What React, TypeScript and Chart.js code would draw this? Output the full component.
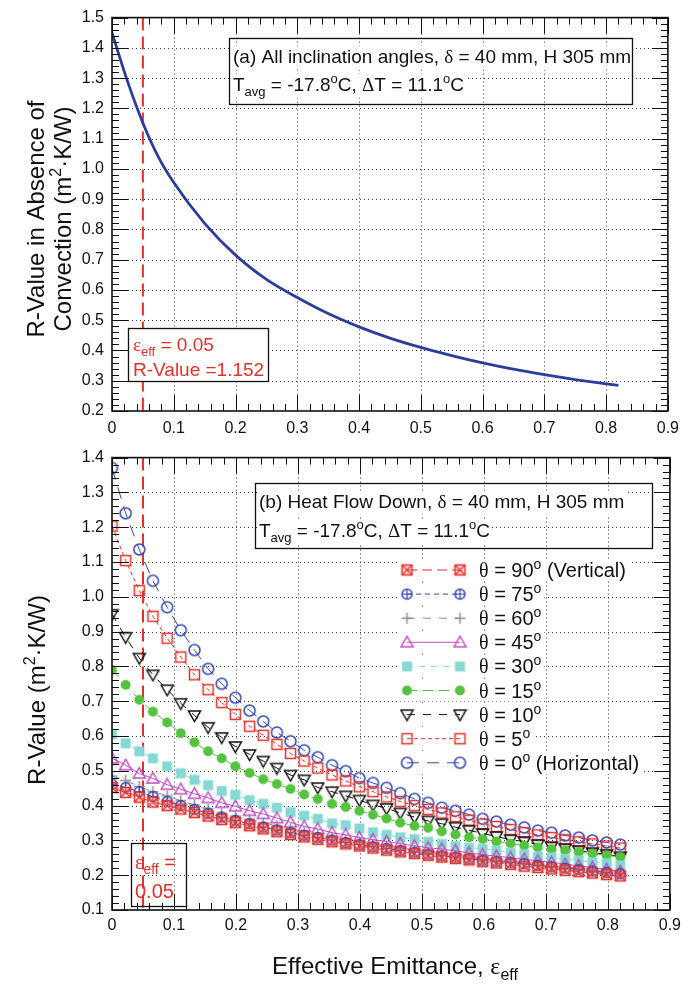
import React, { useEffect, useRef } from 'react';
import { Chart, registerables } from 'chart.js';

Chart.register(...registerables);

const SANS = '"Liberation Sans", Arial, Helvetica, sans-serif';
const SERIF = '"Liberation Serif", "Times New Roman", serif';

// ---------------- data ----------------
const X_TICKS = [0, 0.1, 0.2, 0.3, 0.4, 0.5, 0.6, 0.7, 0.8, 0.9];
const TOP_Y_TICKS = [0.2, 0.3, 0.4, 0.5, 0.6, 0.7, 0.8, 0.9, 1.0, 1.1, 1.2, 1.3, 1.4, 1.5];
const BOTTOM_Y_TICKS = [0.1, 0.2, 0.3, 0.4, 0.5, 0.6, 0.7, 0.8, 0.9, 1.0, 1.1, 1.2, 1.3, 1.4];

const EPS_MARK = 0.05;
const R_AT_MARK = 1.152;

// (a) R-value in absence of convection
const TOP_EPS = [0, 0.025, 0.05, 0.075, 0.1, 0.15, 0.2, 0.25, 0.3, 0.35, 0.4, 0.45, 0.5, 0.55, 0.6, 0.65, 0.7, 0.75, 0.8, 0.82];
const TOP_R = [1.45, 1.29, 1.152, 1.04, 0.955, 0.82, 0.715, 0.635, 0.575, 0.522, 0.478, 0.441, 0.41, 0.383, 0.359, 0.338, 0.32, 0.304, 0.29, 0.285];

// (b) heat flow down, by inclination angle
const EPS = [0, 0.022, 0.044, 0.066, 0.089, 0.111, 0.133, 0.155, 0.177, 0.199, 0.222, 0.244, 0.266, 0.288, 0.31, 0.332, 0.355, 0.377, 0.399, 0.421, 0.443, 0.465, 0.488, 0.51, 0.532, 0.554, 0.576, 0.598, 0.62, 0.643, 0.665, 0.687, 0.709, 0.731, 0.753, 0.775, 0.798, 0.82];
const R_90 = [0.452, 0.438, 0.424, 0.41, 0.4, 0.39, 0.38, 0.37, 0.36, 0.351, 0.342, 0.333, 0.325, 0.317, 0.31, 0.303, 0.296, 0.29, 0.284, 0.278, 0.272, 0.267, 0.262, 0.257, 0.252, 0.248, 0.244, 0.239, 0.235, 0.231, 0.226, 0.222, 0.218, 0.214, 0.21, 0.206, 0.202, 0.198];
const R_75 = [0.462, 0.452, 0.44, 0.426, 0.412, 0.4, 0.389, 0.378, 0.367, 0.357, 0.348, 0.338, 0.33, 0.322, 0.315, 0.308, 0.301, 0.294, 0.288, 0.282, 0.277, 0.271, 0.266, 0.261, 0.256, 0.252, 0.247, 0.243, 0.239, 0.236, 0.233, 0.228, 0.224, 0.22, 0.216, 0.212, 0.208, 0.204];
const R_60 = [0.485, 0.472, 0.455, 0.44, 0.428, 0.414, 0.402, 0.391, 0.378, 0.37, 0.361, 0.351, 0.342, 0.334, 0.325, 0.318, 0.31, 0.303, 0.296, 0.29, 0.284, 0.278, 0.272, 0.267, 0.262, 0.257, 0.252, 0.248, 0.244, 0.24, 0.236, 0.232, 0.228, 0.224, 0.22, 0.216, 0.212, 0.207];
const R_45 = [0.536, 0.516, 0.492, 0.478, 0.46, 0.447, 0.434, 0.422, 0.408, 0.398, 0.385, 0.376, 0.364, 0.352, 0.34, 0.333, 0.322, 0.316, 0.308, 0.302, 0.297, 0.291, 0.284, 0.279, 0.275, 0.27, 0.264, 0.259, 0.255, 0.25, 0.246, 0.241, 0.237, 0.232, 0.227, 0.222, 0.217, 0.211];
const R_30 = [0.605, 0.579, 0.556, 0.536, 0.513, 0.493, 0.474, 0.459, 0.442, 0.431, 0.416, 0.405, 0.394, 0.381, 0.371, 0.362, 0.349, 0.344, 0.334, 0.323, 0.316, 0.309, 0.304, 0.296, 0.29, 0.284, 0.279, 0.276, 0.271, 0.265, 0.26, 0.254, 0.251, 0.247, 0.242, 0.237, 0.234, 0.228];
const R_15 = [0.79, 0.747, 0.704, 0.67, 0.639, 0.608, 0.582, 0.556, 0.536, 0.513, 0.494, 0.476, 0.462, 0.448, 0.432, 0.419, 0.405, 0.396, 0.385, 0.374, 0.363, 0.351, 0.342, 0.336, 0.326, 0.317, 0.309, 0.304, 0.297, 0.291, 0.285, 0.28, 0.275, 0.271, 0.266, 0.262, 0.257, 0.252];
const R_10 = [0.95, 0.884, 0.824, 0.776, 0.733, 0.694, 0.659, 0.625, 0.596, 0.57, 0.547, 0.528, 0.508, 0.488, 0.474, 0.452, 0.44, 0.428, 0.416, 0.402, 0.392, 0.379, 0.367, 0.356, 0.348, 0.338, 0.329, 0.32, 0.311, 0.302, 0.297, 0.288, 0.282, 0.277, 0.271, 0.265, 0.26, 0.253];
const R_5 = [1.203, 1.104, 1.018, 0.944, 0.881, 0.827, 0.776, 0.733, 0.696, 0.662, 0.628, 0.602, 0.576, 0.55, 0.528, 0.508, 0.488, 0.471, 0.454, 0.44, 0.425, 0.412, 0.4, 0.389, 0.379, 0.368, 0.358, 0.347, 0.34, 0.331, 0.322, 0.316, 0.308, 0.302, 0.296, 0.29, 0.284, 0.278];
const R_0 = [1.37, 1.24, 1.136, 1.046, 0.97, 0.904, 0.847, 0.793, 0.75, 0.71, 0.673, 0.642, 0.61, 0.585, 0.559, 0.539, 0.516, 0.499, 0.479, 0.465, 0.451, 0.436, 0.419, 0.408, 0.394, 0.385, 0.374, 0.362, 0.354, 0.345, 0.337, 0.328, 0.322, 0.314, 0.308, 0.3, 0.294, 0.288];

const ANGLES = ['90', '75', '60', '45', '30', '15', '10', '5', '0'];
const ANGLE_NOTES = [' (Vertical)', '', '', '', '', '', '', '', ' (Horizontal)'];

// ---------------- styles ----------------
const RED = '#e5302a';
const BLUE = '#3347b0';
const GRAY = '#8f8f8f';
const MAG = '#c04cc0';
const CYAN = '#86d9d3';
const GREEN = '#55c240';
const BLACK = '#111111';
const CURVE = '#2c3e9c';

const SERIES = [
  { vals: R_90, color: RED, dash: [10, 5], marker: 'sqx' },
  { vals: R_75, color: BLUE, dash: [5, 4], marker: 'cplus' },
  { vals: R_60, color: GRAY, dash: [8, 8], marker: 'plus' },
  { vals: R_45, color: MAG, dash: [], marker: 'tri' },
  { vals: R_30, color: CYAN, dash: [6, 6], marker: 'fsq' },
  { vals: R_15, color: GREEN, dash: [10, 6], marker: 'fcirc' },
  { vals: R_10, color: BLACK, dash: [8, 8], marker: 'tridown' },
  { vals: R_5, color: RED, dash: [4, 3], marker: 'sq' },
  { vals: R_0, color: BLUE, dash: [12, 8], marker: 'circ' },
];

type Run = { t: string; s?: 'sub' | 'sup'; serif?: boolean };

function runFont(size: number, r: Run) {
  const sz = r.s ? Math.round(size * 0.68) : size;
  return `${sz}px ${r.serif ? SERIF : SANS}`;
}
function richWidth(ctx: CanvasRenderingContext2D, runs: Run[], size: number) {
  let w = 0;
  for (const r of runs) {
    ctx.font = runFont(size, r);
    w += ctx.measureText(r.t).width;
  }
  return w;
}
function drawRich(ctx: CanvasRenderingContext2D, runs: Run[], x: number, y: number, size: number, color: string, align = 'left', bg = false) {
  const w = richWidth(ctx, runs, size);
  let cx = align === 'center' ? x - w / 2 : align === 'right' ? x - w : x;
  if (bg) {
    ctx.fillStyle = '#fff';
    ctx.fillRect(cx - 2, y - size * 0.9, w + 4, size * 1.25);
  }
  ctx.fillStyle = color;
  ctx.textAlign = 'left';
  ctx.textBaseline = 'alphabetic';
  for (const r of runs) {
    ctx.font = runFont(size, r);
    const dy = r.s === 'sub' ? size * 0.25 : r.s === 'sup' ? -size * 0.4 : 0;
    ctx.fillText(r.t, cx, y + dy);
    cx += ctx.measureText(r.t).width;
  }
  return w;
}
function drawRotated(ctx: CanvasRenderingContext2D, runs: Run[], x: number, y: number, size: number) {
  ctx.save();
  ctx.translate(x, y);
  ctx.rotate(-Math.PI / 2);
  drawRich(ctx, runs, 0, 0, size, '#111', 'center');
  ctx.restore();
}

function makeMarkers() {
  const S = 15;
  const c = 7.5;
  const mk = (fn: (g: CanvasRenderingContext2D) => void) => {
    const cv = document.createElement('canvas');
    cv.width = S;
    cv.height = S;
    const g = cv.getContext('2d')!;
    g.lineWidth = 1.5;
    fn(g);
    return cv;
  };
  return {
    sqx: mk((g) => {
      g.strokeStyle = RED;
      g.fillStyle = 'rgba(240,140,140,0.35)';
      g.fillRect(c - 5, c - 5, 10, 10);
      g.strokeRect(c - 5, c - 5, 10, 10);
      g.lineWidth = 1.2;
      g.beginPath();
      g.moveTo(c - 5, c - 5); g.lineTo(c + 5, c + 5);
      g.moveTo(c + 5, c - 5); g.lineTo(c - 5, c + 5);
      g.stroke();
    }),
    cplus: mk((g) => {
      g.strokeStyle = BLUE;
      g.beginPath(); g.arc(c, c, 5, 0, Math.PI * 2); g.stroke();
      g.lineWidth = 1.2;
      g.beginPath();
      g.moveTo(c - 5, c); g.lineTo(c + 5, c);
      g.moveTo(c, c - 5); g.lineTo(c, c + 5);
      g.stroke();
    }),
    plus: mk((g) => {
      g.strokeStyle = GRAY;
      g.beginPath();
      g.moveTo(c - 5.5, c); g.lineTo(c + 5.5, c);
      g.moveTo(c, c - 5.5); g.lineTo(c, c + 5.5);
      g.stroke();
    }),
    tri: mk((g) => {
      g.strokeStyle = MAG;
      g.beginPath();
      g.moveTo(c, c - 6); g.lineTo(c + 6, c + 4.5); g.lineTo(c - 6, c + 4.5); g.closePath();
      g.stroke();
    }),
    fsq: mk((g) => {
      g.fillStyle = CYAN;
      g.fillRect(c - 5, c - 5, 10, 10);
    }),
    fcirc: mk((g) => {
      g.fillStyle = GREEN;
      g.beginPath(); g.arc(c, c, 5, 0, Math.PI * 2); g.fill();
    }),
    tridown: mk((g) => {
      g.strokeStyle = BLACK;
      g.beginPath();
      g.moveTo(c - 6, c - 4.5); g.lineTo(c + 6, c - 4.5); g.lineTo(c, c + 6); g.closePath();
      g.stroke();
    }),
    sq: mk((g) => {
      g.strokeStyle = RED;
      g.strokeRect(c - 5, c - 5, 10, 10);
    }),
    circ: mk((g) => {
      g.strokeStyle = BLUE;
      g.beginPath(); g.arc(c, c, 5.5, 0, Math.PI * 2); g.stroke();
    }),
  } as Record<string, HTMLCanvasElement>;
}

function scaleCfg(axis: 'x' | 'y', min: number, max: number, ticks: number[], fit: number, pad: number) {
  return {
    type: 'linear' as const,
    min,
    max,
    afterBuildTicks: (s: any) => {
      s.ticks = ticks.map((v) => ({ value: v }));
    },
    afterFit: (s: any) => {
      if (axis === 'x') s.height = fit;
      else s.width = fit;
    },
    grid: { display: false, drawTicks: false },
    border: { display: false },
    ticks: {
      color: '#111',
      font: { family: SANS, size: 16 },
      padding: pad,
      autoSkip: false,
      maxRotation: 0,
      callback: (v: any) => (Number(v) === 0 ? '0' : Number(v).toFixed(1)),
    },
  };
}

function framePlugin(yMin: number, yMax: number, xTicks: number[], yTicks: number[], extra: (ctx: CanvasRenderingContext2D, chart: any) => void) {
  return {
    id: 'frameDecor',
    beforeDatasetsDraw(chart: any) {
      const ctx: CanvasRenderingContext2D = chart.ctx;
      const { left, right, top, bottom } = chart.chartArea;
      const xs = chart.scales.x;
      const ys = chart.scales.y;
      ctx.save();
      ctx.strokeStyle = '#333';
      ctx.lineWidth = 1;
      ctx.setLineDash([1, 3]);
      for (const v of xTicks) {
        const px = Math.round(xs.getPixelForValue(v)) + 0.5;
        if (px < left + 2 || px > right - 2) continue;
        ctx.beginPath(); ctx.moveTo(px, top); ctx.lineTo(px, bottom); ctx.stroke();
      }
      for (const v of yTicks) {
        const py = Math.round(ys.getPixelForValue(v)) + 0.5;
        if (py < top + 2 || py > bottom - 2) continue;
        ctx.beginPath(); ctx.moveTo(left, py); ctx.lineTo(right, py); ctx.stroke();
      }
      // emittance marker line
      ctx.strokeStyle = RED;
      ctx.lineWidth = 2;
      ctx.setLineDash([13, 6]);
      const mx = xs.getPixelForValue(EPS_MARK);
      ctx.beginPath(); ctx.moveTo(mx, top); ctx.lineTo(mx, bottom); ctx.stroke();
      ctx.restore();
    },
    afterDatasetsDraw(chart: any) {
      const ctx: CanvasRenderingContext2D = chart.ctx;
      const { left, right, top, bottom } = chart.chartArea;
      const xs = chart.scales.x;
      const ys = chart.scales.y;
      ctx.save();
      ctx.strokeStyle = '#111';
      ctx.lineWidth = 1;
      ctx.setLineDash([]);
      const MAJ = 16;
      const MIN = 7;
      const nx = Math.round(0.9 / 0.02);
      for (let i = 0; i <= nx; i++) {
        const px = Math.round(xs.getPixelForValue(i * 0.02)) + 0.5;
        const L = i % 5 === 0 ? MAJ : MIN;
        ctx.beginPath();
        ctx.moveTo(px, bottom); ctx.lineTo(px, bottom - L);
        ctx.moveTo(px, top); ctx.lineTo(px, top + L);
        ctx.stroke();
      }
      const ny = Math.round((yMax - yMin) / 0.02);
      for (let i = 0; i <= ny; i++) {
        const py = Math.round(ys.getPixelForValue(yMin + i * 0.02)) + 0.5;
        const L = i % 5 === 0 ? MAJ : MIN;
        ctx.beginPath();
        ctx.moveTo(left, py); ctx.lineTo(left + L, py);
        ctx.moveTo(right, py); ctx.lineTo(right - L, py);
        ctx.stroke();
      }
      ctx.lineWidth = 1.6;
      ctx.strokeRect(left, top, right - left, bottom - top);
      extra(ctx, chart);
      ctx.restore();
    },
  };
}

const deg: Run = { t: 'o', s: 'sup' };
const COND_LINE: Run[] = [
  { t: 'T' }, { t: 'avg', s: 'sub' }, { t: ' = -17.8' }, deg, { t: 'C, ' },
  { t: 'Δ', serif: true }, { t: 'T = 11.1' }, deg, { t: 'C' },
];

export default function App() {
  const topRef = useRef<HTMLCanvasElement>(null);
  const botRef = useRef<HTMLCanvasElement>(null);

  useEffect(() => {
    const markers = makeMarkers();
    const OFF = 440;

    const topChart = new Chart(topRef.current!, {
      type: 'line',
      data: {
        datasets: [
          {
            data: TOP_EPS.map((x, i) => ({ x, y: TOP_R[i] })),
            borderColor: CURVE,
            borderWidth: 2.8,
            pointRadius: 0,
            tension: 0.4,
            cubicInterpolationMode: 'monotone',
            fill: false,
          } as any,
        ],
      },
      options: {
        animation: false,
        responsive: false,
        maintainAspectRatio: false,
        devicePixelRatio: 1,
        layout: { padding: { left: 0, right: 12, top: 14, bottom: 0 } },
        plugins: { legend: { display: false }, tooltip: { enabled: false } },
        scales: {
          x: scaleCfg('x', 0, 0.9, X_TICKS, 29, 8) as any,
          y: scaleCfg('y', 0.2, 1.5, TOP_Y_TICKS, 112, 8) as any,
        },
      },
      plugins: [
        framePlugin(0.2, 1.5, X_TICKS, TOP_Y_TICKS, (ctx) => {
          // y title
          drawRotated(ctx, [{ t: 'R-Value in Absence of' }], 44, 219, 24);
          drawRotated(ctx, [{ t: 'Convection (m' }, { t: '2', s: 'sup' }, { t: '·K/W)' }], 71, 219, 24);
          // (a) box
          drawRich(ctx, [{ t: '(a) All inclination angles, ' }, { t: 'δ', serif: true }, { t: ' = 40 mm, H 305 mm' }], 233, 63, 19, '#111', 'left', true);
          drawRich(ctx, COND_LINE, 233, 91, 19, '#111', 'left', true);
          ctx.lineWidth = 1.3;
          ctx.strokeStyle = '#111';
          ctx.strokeRect(229.5, 38.5, 403, 66);
          // red box
          ctx.fillStyle = '#fff';
          ctx.fillRect(128.5, 328.5, 140, 53);
          ctx.strokeRect(128.5, 328.5, 140, 53);
          drawRich(ctx, [{ t: 'ε', serif: true }, { t: 'eff', s: 'sub' }, { t: ' = ' + EPS_MARK.toFixed(2) }], 133, 351, 19, RED);
          drawRich(ctx, [{ t: 'R-Value =' + R_AT_MARK.toFixed(3) }], 133, 376, 19, RED);
        }),
      ],
    });

    const botChart = new Chart(botRef.current!, {
      type: 'line',
      data: {
        datasets: SERIES.map((s) => ({
          data: EPS.map((x, i) => ({ x, y: s.vals[i] })),
          borderColor: s.color,
          backgroundColor: s.color,
          borderWidth: 1,
          borderDash: s.dash,
          pointStyle: markers[s.marker],
          pointRadius: 5,
          tension: 0,
          fill: false,
        })) as any,
      },
      options: {
        animation: false,
        responsive: false,
        maintainAspectRatio: false,
        devicePixelRatio: 1,
        layout: { padding: { left: 0, right: 12, top: 14, bottom: 0 } },
        plugins: { legend: { display: false }, tooltip: { enabled: false } },
        scales: {
          x: scaleCfg('x', 0, 0.9, X_TICKS, 77, 6) as any,
          y: scaleCfg('y', 0.1, 1.4, BOTTOM_Y_TICKS, 112, 8) as any,
        },
      },
      plugins: [
        framePlugin(0.1, 1.4, X_TICKS, BOTTOM_Y_TICKS, (ctx) => {
          // titles
          drawRotated(ctx, [{ t: 'R-Value (m' }, { t: '2', s: 'sup' }, { t: '·K/W)' }], 45, 690 - OFF, 24);
          drawRich(ctx, [{ t: 'Effective Emittance, ' }, { t: 'ε', serif: true }, { t: 'eff', s: 'sub' }], 395, 974 - OFF, 24, '#111', 'center');
          // (b) box
          drawRich(ctx, [{ t: '(b) Heat Flow Down, ' }, { t: 'δ', serif: true }, { t: ' = 40 mm, H 305 mm' }], 259, 508 - OFF, 19, '#111', 'left', true);
          drawRich(ctx, COND_LINE, 259, 537 - OFF, 19, '#111', 'left', true);
          ctx.lineWidth = 1.3;
          ctx.strokeStyle = '#111';
          ctx.strokeRect(255.5, 483.5 - OFF, 397, 65);
          // legend
          for (let i = 0; i < SERIES.length; i++) {
            const s = SERIES[i];
            const y = 570 - OFF + i * 24.1;
            const runs: Run[] = [{ t: 'θ', serif: true }, { t: ' = ' + ANGLES[i] }, deg, { t: ANGLE_NOTES[i] }];
            const tw = richWidth(ctx, runs, 20);
            ctx.fillStyle = '#fff';
            ctx.fillRect(399, y - 11, 479 - 399 + tw + 3, 22);
            ctx.save();
            ctx.strokeStyle = s.color;
            ctx.lineWidth = 1;
            ctx.setLineDash(s.dash);
            ctx.beginPath(); ctx.moveTo(407, y); ctx.lineTo(460, y); ctx.stroke();
            ctx.restore();
            const m = markers[s.marker];
            ctx.drawImage(m, 407 - m.width / 2, y - m.height / 2);
            ctx.drawImage(m, 460 - m.width / 2, y - m.height / 2);
            drawRich(ctx, runs, 479, y + 7, 20, '#111');
          }
          // red box
          ctx.lineWidth = 1.3;
          ctx.strokeStyle = '#111';
          ctx.strokeRect(131.5, 843.5 - OFF, 55, 63);
          drawRich(ctx, [{ t: 'ε', serif: true }, { t: 'eff', s: 'sub' }, { t: ' =' }], 135, 869 - OFF, 20, RED);
          drawRich(ctx, [{ t: EPS_MARK.toFixed(2) }], 135, 898 - OFF, 20, RED);
        }),
      ],
    });

    return () => {
      topChart.destroy();
      botChart.destroy();
    };
  }, []);

  return (
    <div style={{ position: 'absolute', left: 0, top: 0, width: 687, height: 987, background: '#fff' }}>
      <canvas ref={topRef} width={687} height={440} style={{ position: 'absolute', left: 0, top: 0, width: 687, height: 440 }} />
      <canvas ref={botRef} width={687} height={547} style={{ position: 'absolute', left: 0, top: 440, width: 687, height: 547 }} />
    </div>
  );
}
